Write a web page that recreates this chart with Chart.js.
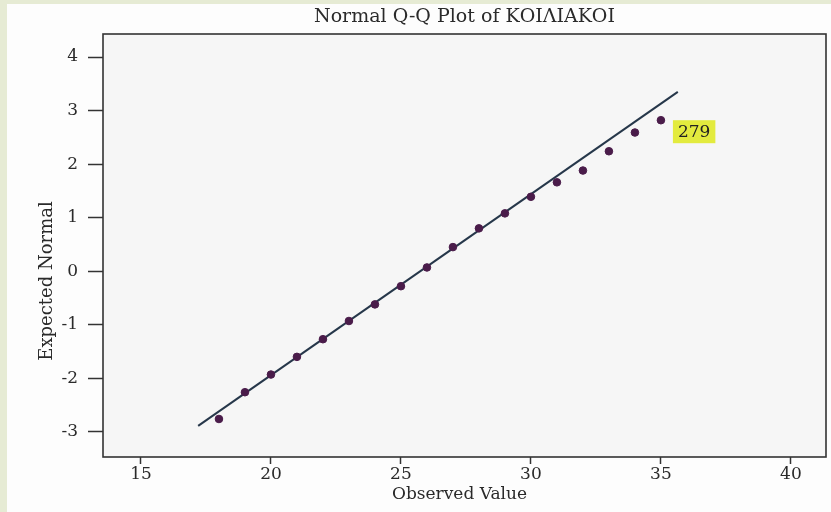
<!DOCTYPE html>
<html>
<head>
<meta charset="utf-8">
<script src="https://cdn.jsdelivr.net/npm/chart.js@4"></script>
<style>
  html, body { margin: 0; padding: 0; background: #e6ebd4; }
  #wrap { position: absolute; left: 0; top: 0; width: 831px; height: 512px; }
</style>
</head>
<body>
<div id="wrap"><canvas id="chart-container" width="831" height="512"></canvas></div>
<script>
"use strict";

// Valores observados (eje X)
const observados = [18, 19, 20, 21, 22, 23, 24, 25, 26, 27, 28, 29, 30, 31, 32, 33, 34, 35];
// Valores normales esperados (eje Y)
const esperados = [-2.76, -2.26, -1.93, -1.60, -1.27, -0.93, -0.62, -0.28, 0.07, 0.45,
  0.80, 1.08, 1.39, 1.66, 1.88, 2.24, 2.59, 2.82];

// Recta de referencia (extremos)
const rectaX = [17.2, 35.65];
const rectaY = [-2.89, 3.35];

// Marcas de los ejes
const ticksX = [15, 20, 25, 30, 35, 40];
const ticksY = [-3, -2, -1, 0, 1, 2, 3, 4];

// Etiqueta del caso destacado
const etiquetaCaso = "279";
const indiceCaso = observados.length - 1;

const titulo = "Normal Q-Q Plot of ΚΟΙΛΙΑΚΟΙ";
const tituloX = "Observed Value";
const tituloY = "Expected Normal";

const colorTexto = "#2a2a2a";
const fuente = "'DejaVu Serif', serif";

const puntos = observados.map((x, i) => ({ x: x, y: esperados[i] }));
const recta = rectaX.map((x, i) => ({ x: x, y: rectaY[i] }));

// Fondo, marco y textos
const decorado = {
  id: "decorado",
  beforeDraw(chart) {
    const ctx = chart.ctx;
    const a = chart.chartArea;
    ctx.save();
    ctx.fillStyle = "#fdfdfd";
    ctx.fillRect(7, 4, chart.width - 7, chart.height - 4);
    ctx.fillStyle = "#f6f6f6";
    ctx.fillRect(a.left, a.top, a.right - a.left, a.bottom - a.top);
    ctx.restore();
  },
  afterDraw(chart) {
    const ctx = chart.ctx;
    const a = chart.chartArea;
    ctx.save();
    ctx.strokeStyle = "#333";
    ctx.lineWidth = 1.6;
    ctx.strokeRect(a.left, a.top, a.right - a.left, a.bottom - a.top);

    ctx.fillStyle = colorTexto;
    ctx.textAlign = "center";
    ctx.textBaseline = "middle";
    ctx.font = "19px " + fuente;
    ctx.fillText(titulo, (a.left + a.right) / 2, 17);
    ctx.font = "17px " + fuente;
    ctx.fillText(tituloX, (a.left + a.right) / 2 - 5, 495);
    ctx.font = "18px " + fuente;
    ctx.translate(47, 281);
    ctx.rotate(-Math.PI / 2);
    ctx.fillText(tituloY, 0, 0);
    ctx.restore();

    // etiqueta del caso
    const p = chart.getDatasetMeta(0).data[indiceCaso];
    ctx.save();
    ctx.font = "17px " + fuente;
    const w = ctx.measureText(etiquetaCaso).width + 10;
    const bx = p.x + 12, by = p.y;
    ctx.fillStyle = "#e3eb3e";
    ctx.fillRect(bx, by, w, 23);
    ctx.fillStyle = "#222";
    ctx.textAlign = "left";
    ctx.textBaseline = "middle";
    ctx.fillText(etiquetaCaso, bx + 5, by + 12);
    ctx.restore();
  }
};

new Chart(document.getElementById("chart-container"), {
  type: "scatter",
  data: {
    datasets: [
      {
        label: "Observed",
        data: puntos,
        backgroundColor: "#4a1c4a",
        borderColor: "#4a1c4a",
        pointRadius: 3.8,
        pointHoverRadius: 3.8
      },
      {
        type: "line",
        label: "Normal",
        data: recta,
        borderColor: "#26374a",
        borderWidth: 2,
        pointRadius: 0,
        fill: false
      }
    ]
  },
  options: {
    responsive: false,
    animation: false,
    layout: { padding: { left: 0, top: 34, right: 5, bottom: 0 } },
    plugins: {
      legend: { display: false },
      title: { display: false },
      tooltip: { enabled: false }
    },
    scales: {
      x: {
        type: "linear",
        min: 13.54,
        max: 41.35,
        afterBuildTicks: (s) => { s.ticks = ticksX.map(v => ({ value: v })); },
        afterFit: (s) => { s.height = 55; },
        grid: { drawOnChartArea: false, drawTicks: true, tickLength: 7, tickColor: "#333", tickWidth: 1.5 },
        border: { display: false },
        ticks: { color: colorTexto, font: { family: fuente, size: 17 }, padding: 0, maxRotation: 0 }
      },
      y: {
        type: "linear",
        min: -3.47,
        max: 4.43,
        afterBuildTicks: (s) => { s.ticks = ticksY.map(v => ({ value: v })); },
        afterFit: (s) => { s.width = 103; },
        grid: { drawOnChartArea: false, drawTicks: true, tickLength: 15, tickColor: "#333", tickWidth: 1.5 },
        border: { display: false },
        ticks: { color: colorTexto, font: { family: fuente, size: 17 }, padding: 10 }
      }
    }
  },
  plugins: [decorado]
});
</script>
</body>
</html>
